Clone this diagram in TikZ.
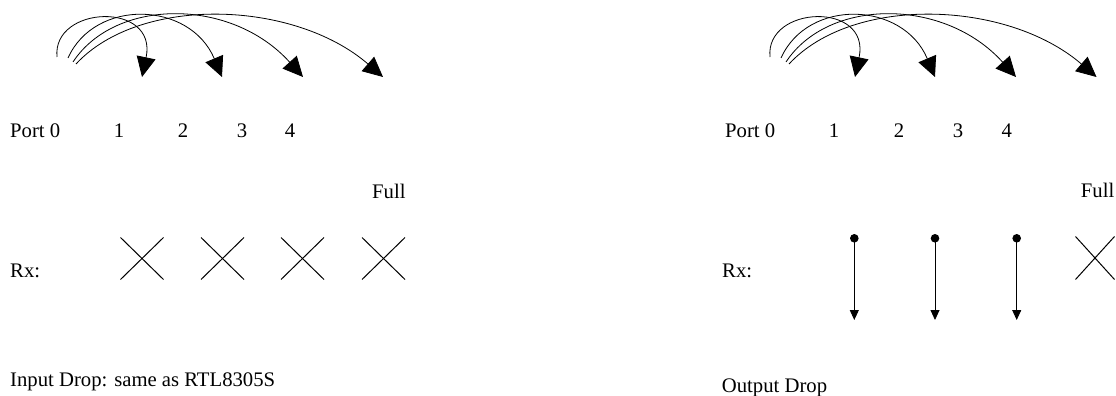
\documentclass[tikz,border=0pt]{standalone}
\usepackage{fontspec}
\setmainfont{Liberation Serif}
\usetikzlibrary{arrows.meta,shapes.misc}
\begin{document}
\begin{tikzpicture}[x=1pt,y=-1pt,
  lbl/.style={inner sep=0pt,font=\fontsize{20.7}{24}\selectfont},
  xmark/.style={draw,cross out,line width=1pt,minimum width=42pt,minimum height=41pt,inner sep=0pt},
  arcarrow/.style={line width=0.8pt,-{Triangle[length=20pt,width=19pt]}},
  droparrow/.style={line width=0.9pt,-{Triangle[length=10pt,width=9pt]}},
  dot/.style={circle,fill,inner sep=0pt,minimum size=8.6pt}]
\useasboundingbox (0,0) rectangle (1116,396);

% ---------- left panel ----------
\coordinate (Ls1) at (57,57);
\coordinate (Ls2) at (68,58);
\coordinate (Ls3) at (73,62);
\coordinate (Ls4) at (76,64);
\coordinate (Lt1) at (142,77);
\coordinate (Lt2) at (222,77);
\coordinate (Lt3) at (303,77);
\coordinate (Lt4) at (383,77);
\draw[arcarrow] (Ls1) .. controls (52,5) and (158,1) .. (Lt1);
\draw[arcarrow] (Ls2) .. controls (95,-2) and (190,1) .. (Lt2);
\draw[arcarrow] (Ls3) .. controls (115,-2) and (231,-3) .. (Lt3);
\draw[arcarrow] (Ls4) .. controls (140,-5) and (294,0) .. (Lt4);

\node[lbl,anchor=base west] (Lport) at (10,137.5) {Port 0};
\node[lbl,anchor=base] (Lp1) at (119,137.5) {1};
\node[lbl,anchor=base] (Lp2) at (183,137.5) {2};
\node[lbl,anchor=base] (Lp3) at (242,137.5) {3};
\node[lbl,anchor=base] (Lp4) at (290,137.5) {4};
\node[lbl,anchor=base west] (Lfull) at (372,198) {Full};
\node[lbl,anchor=base west] (Lrx) at (10,277) {Rx:};
\node[xmark] (Lx1) at (142,258.5) {};
\node[xmark] (Lx2) at (222.5,258.5) {};
\node[xmark] (Lx3) at (302.5,258.5) {};
\node[xmark] (Lx4) at (383.5,258.5) {};
\node[lbl,anchor=base west] (Lcap) at (10,386) {Input Drop: same as RTL8305S};

% ---------- right panel ----------
\coordinate (Rs1) at (770,57);
\coordinate (Rs2) at (781,58);
\coordinate (Rs3) at (786,62);
\coordinate (Rs4) at (789,64);
\coordinate (Rt1) at (855,77);
\coordinate (Rt2) at (935,77);
\coordinate (Rt3) at (1016,77);
\coordinate (Rt4) at (1096.5,77);
\draw[arcarrow] (Rs1) .. controls (765,5) and (871,1) .. (Rt1);
\draw[arcarrow] (Rs2) .. controls (808,-2) and (903,1) .. (Rt2);
\draw[arcarrow] (Rs3) .. controls (828,-2) and (944,-3) .. (Rt3);
\draw[arcarrow] (Rs4) .. controls (853,-5) and (1007,0) .. (Rt4);

\node[lbl,anchor=base west] (Rport) at (725,137.5) {Port 0};
\node[lbl,anchor=base] (Rp1) at (834,137.5) {1};
\node[lbl,anchor=base] (Rp2) at (899,137.5) {2};
\node[lbl,anchor=base] (Rp3) at (958,137.5) {3};
\node[lbl,anchor=base] (Rp4) at (1006.7,137.5) {4};
\node[lbl,anchor=base west] (Rfull) at (1080.7,197) {Full};
\node[lbl,anchor=base west] (Rrx) at (722,277) {Rx:};

\node[dot] (Rd1) at (854.3,238.3) {};
\node[dot] (Rd2) at (935,238.3) {};
\node[dot] (Rd3) at (1016.7,238.3) {};
\coordinate (Re1) at (854.3,320);
\coordinate (Re2) at (935,320);
\coordinate (Re3) at (1016.7,320);
\draw[droparrow] (Rd1.center) -- (Re1);
\draw[droparrow] (Rd2.center) -- (Re2);
\draw[droparrow] (Rd3.center) -- (Re3);
\node[xmark,minimum width=38pt,minimum height=42pt] (Rx4) at (1095,258) {};
\node[lbl,anchor=base west] (Rcap) at (721.7,392.5) {Output Drop};
\end{tikzpicture}
\end{document}
